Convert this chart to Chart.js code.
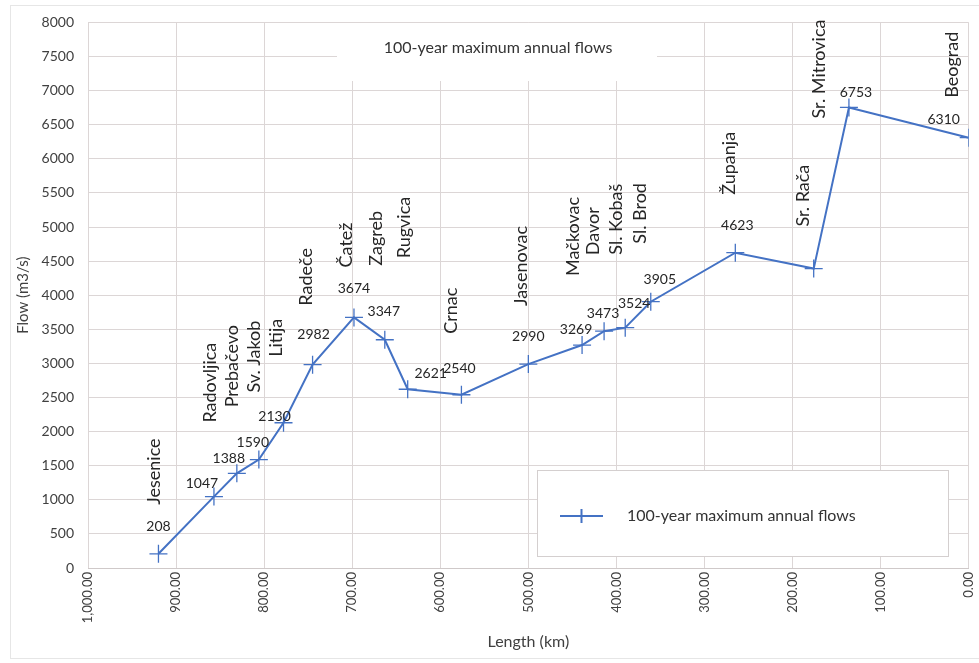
<!DOCTYPE html>
<html>
<head>
<meta charset="utf-8">
<script src="https://cdn.jsdelivr.net/npm/chart.js@4"></script>
<style>
  html, body { margin: 0; padding: 0; background: #fff; }
  #wrap { width: 979px; height: 663px; }
</style>
</head>
<body>
<div id="wrap"><canvas id="flowChart" width="979" height="663"></canvas></div>
<script>
// Stations along the river, chainage (km) and 100-year flows (m3/s)
const stations = ['Jesenice', 'Radovljica', 'Prebačevo', 'Sv. Jakob', 'Litija', 'Radeče', 'Čatež', 'Zagreb',
  'Rugvica', 'Crnac', 'Jasenovac', 'Mačkovac', 'Davor', 'Sl. Kobaš', 'Sl. Brod', 'Županja', 'Sr. Rača',
  'Sr. Mitrovica', 'Beograd'];
const lengthKm = [920, 857, 831, 806, 778, 745, 698, 663, 637, 576, 500, 439, 414, 390, 361, 265, 176, 136, 0];
const flows = [208, 1047, 1388, 1590, 2130, 2982, 3674, 3347, 2621, 2540, 2990, 3269, 3473, 3524, 3905, 4623, 4390, 6753, 6310];
const valueShown = [1, 1, 1, 1, 1, 1, 1, 1, 1, 1, 1, 1, 1, 1, 1, 1, 0, 1, 1];
const xTicks = [1000, 900, 800, 700, 600, 500, 400, 300, 200, 100, 0];
const yTicks = [0, 500, 1000, 1500, 2000, 2500, 3000, 3500, 4000, 4500, 5000, 5500, 6000, 6500, 7000, 7500, 8000];
const seriesName = '100-year maximum annual flows';

// label placement relative to each point (px)
const valueOffset = [[0,-27],[-12,-13],[-8,-15],[-6,-17],[-9,-6],[1,-30],[0,-29],[-1,-28],[23,-16],[-2,-26],
  [0,-28],[-6,-16],[-1,-18],[9,-24],[9,-22],[2,-27],[0,0],[7,-15],[-25,-18]];
const nameOffset = [[-4,-49],[-4,-74],[-5,-66],[-5,-67],[-7,-66],[-6,-59],[-8,-50],[-9,-74],[-4,-131],[-10,-61],
  [-7,-58],[-9,-69],[-11,-76],[-9,-73],[-11,-58],[-6,-58],[-11,-42],[-30,11],[-17,-40]];

const FONT = 'Lato, "Open Sans", sans-serif';
const BLUE = '#4472C4';
const GRID = '#dcd6d6';

const labelsPlugin = {
  id: 'pointLabels',
  beforeDatasetsDraw(chart) {
    const ctx = chart.ctx;
    ctx.save();
    // white panel behind the in-plot title
    ctx.fillStyle = '#fff';
    ctx.fillRect(337, 23, 320, 58);
    ctx.fillStyle = '#333';
    ctx.font = '16px ' + FONT;
    ctx.textAlign = 'center';
    ctx.textBaseline = 'middle';
    ctx.fillText(seriesName, 498, 48);
    // legend panel
    ctx.fillStyle = '#fff';
    ctx.fillRect(537, 470, 411, 86);
    ctx.strokeStyle = '#d4cfcf';
    ctx.lineWidth = 1;
    ctx.strokeRect(537.5, 470.5, 411, 86);
    ctx.strokeStyle = BLUE;
    ctx.lineWidth = 2;
    ctx.beginPath();
    ctx.moveTo(560, 516); ctx.lineTo(603, 516);
    ctx.moveTo(581.5, 509); ctx.lineTo(581.5, 523);
    ctx.stroke();
    ctx.fillStyle = '#333';
    ctx.textAlign = 'left';
    ctx.fillText(seriesName, 627, 516);
    ctx.restore();
  },
  afterDatasetsDraw(chart) {
    const ctx = chart.ctx;
    const xs = chart.scales.x, ys = chart.scales.y;
    ctx.save();
    ctx.fillStyle = '#262626';
    ctx.textBaseline = 'middle';
    stations.forEach((name, i) => {
      const px = xs.getPixelForValue(lengthKm[i]);
      const py = ys.getPixelForValue(flows[i]);
      if (valueShown[i]) {
        ctx.font = '14px ' + FONT;
        ctx.textAlign = 'center';
        ctx.fillText(String(flows[i]), px + valueOffset[i][0], py + valueOffset[i][1]);
      }
      ctx.save();
      ctx.translate(px + nameOffset[i][0], py + nameOffset[i][1]);
      ctx.rotate(-Math.PI / 2);
      ctx.font = '18px ' + FONT;
      ctx.textAlign = 'left';
      ctx.fillText(name, 0, 0);
      ctx.restore();
    });
    ctx.restore();
  }
};

const frame = {
  id: 'frame',
  beforeDraw(chart) {
    const ctx = chart.ctx;
    ctx.save();
    ctx.fillStyle = '#fff';
    ctx.fillRect(0, 0, chart.width, chart.height);
    ctx.strokeStyle = '#e6e6e6';
    ctx.lineWidth = 1;
    ctx.strokeRect(10.5, 5.5, 975, 653);
    ctx.restore();
  }
};

new Chart(document.getElementById('flowChart'), {
  type: 'line',
  data: {
    datasets: [{
      label: seriesName,
      data: lengthKm.map((k, i) => ({ x: k, y: flows[i] })),
      borderColor: BLUE,
      backgroundColor: BLUE,
      borderWidth: 2,
      pointStyle: 'cross',
      pointRadius: 9,
      pointBorderWidth: 1.3,
      tension: 0
    }]
  },
  options: {
    responsive: false,
    animation: false,
    layout: { padding: { left: 10, right: 7, top: 12, bottom: 8 } },
    plugins: {
      legend: { display: false },
      tooltip: { enabled: false }
    },
    scales: {
      x: {
        type: 'linear',
        reverse: true,
        min: 0,
        max: 1000,
        afterBuildTicks: s => { s.ticks = xTicks.map(v => ({ value: v })); },
        ticks: {
          minRotation: 90,
          maxRotation: 90,
          color: '#404040',
          font: { family: FONT, size: 13 },
          padding: 4,
          callback: v => Number(v).toLocaleString('en-US', { minimumFractionDigits: 2, maximumFractionDigits: 2 })
        },
        grid: { color: GRID, drawTicks: false },
        border: { color: '#cfc9c9' },
        title: { display: true, text: 'Length (km)', color: '#404040', font: { family: FONT, size: 16 }, padding: { top: 0 } },
        afterFit: s => { s.height = 87; s.paddingLeft = 0; s.paddingRight = 0; }
      },
      y: {
        min: 0,
        max: 8000,
        afterBuildTicks: s => { s.ticks = yTicks.map(v => ({ value: v })); },
        ticks: { color: '#404040', font: { family: FONT, size: 14 }, padding: 14, callback: v => String(v) },
        grid: { color: GRID, drawTicks: false },
        border: { display: false },
        title: { display: true, text: 'Flow (m3/s)', color: '#404040', font: { family: FONT, size: 15 }, padding: { bottom: 2 } },
        afterFit: s => { s.width = 78; }
      }
    }
  },
  plugins: [frame, labelsPlugin]
});
</script>
</body>
</html>
